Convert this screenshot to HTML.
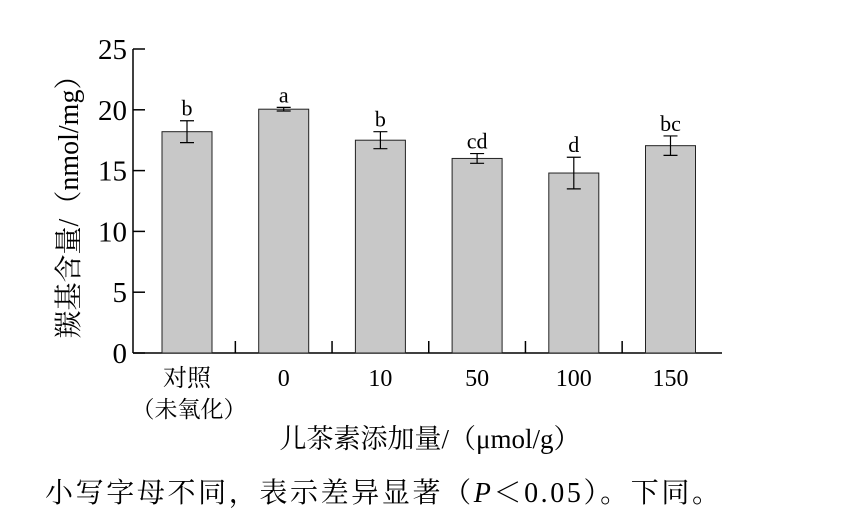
<!DOCTYPE html>
<html><head><meta charset="utf-8">
<style>
html,body{margin:0;padding:0;background:#fff;}
svg{display:block;font-family:"Liberation Serif","Noto Serif CJK SC",serif;}
</style></head>
<body>
<svg id="chart" width="844" height="529" viewBox="0 0 844 529"></svg>
<script>
const categories = ["对照", "0", "10", "50", "100", "150"];
const values = [18.2, 20.05, 17.5, 16.0, 14.8, 17.05];
const errors = [0.9, 0.15, 0.7, 0.4, 1.3, 0.8];
const letters = ["b", "a", "b", "cd", "d", "bc"];
const yTicks = [0, 5, 10, 15, 20, 25];

const NS = "http://www.w3.org/2000/svg";
const svg = document.getElementById("chart");
const X0 = 133, X1 = 722, Y0 = 353, YTOP = 49, YMAX = 25;
const step = 96.7, firstC = 187, barW = 50;
function y(v){ return Y0 - (v / YMAX) * (Y0 - YTOP); }
function xc(i){ return firstC + i * step; }
function mk(tag, attrs, text){
  const e = document.createElementNS(NS, tag);
  for (const k in attrs) e.setAttribute(k, attrs[k]);
  if (text !== undefined) e.textContent = text;
  svg.appendChild(e);
  return e;
}
let a = mk("line", {x1:X0, y1:YTOP, x2:X0, y2:Y0, stroke:"#000", "stroke-width":1.5});


a = mk("line", {x1:X0, y1:Y0, x2:X1, y2:Y0, stroke:"#000", "stroke-width":1.5});


yTicks.forEach(t => {
  const l = mk("line", {x1:X0, y1:y(t), x2:X0+12, y2:y(t), stroke:"#000", "stroke-width":1.5});
  
  
  const tx = mk("text", {x:X0-6, y:y(t)+10, "text-anchor":"end", "font-size":29}, String(t));
  
  
});
for (let i = 0; i < categories.length - 1; i++) {
  const xm = (xc(i) + xc(i+1)) / 2;
  const l = mk("line", {x1:xm, y1:Y0, x2:xm, y2:Y0-12, stroke:"#000", "stroke-width":1.5});
  
  
}
categories.forEach((c, i) => {
  const cx = xc(i);
  const r = mk("rect", {x:cx-barW/2, y:y(values[i]), width:barW, height:Y0-y(values[i]), fill:"#c8c8c8", stroke:"#222", "stroke-width":1});
  
  
  const hi = y(values[i] + errors[i]), lo = y(values[i] - errors[i]);
  const e = mk("path", {d:`M${cx},${hi}V${lo}M${cx-7},${hi}H${cx+7}M${cx-7},${lo}H${cx+7}`, stroke:"#000", "stroke-width":1.2, fill:"none"});
  
  
  const lt = mk("text", {x:cx, y:hi-5, "text-anchor":"middle", "font-size":22}, letters[i]);
  
  
  const xl = mk("text", {x:cx, y:386, "text-anchor":"middle", "font-size":24}, c);
  
  
});
let t = mk("text", {x:xc(0)+2, y:417, "text-anchor":"middle", "font-size":23}, "（未氧化）");


t = mk("text", {x:430, y:448, "text-anchor":"middle", "font-size":27}, "儿茶素添加量/（μmol/g）");


t = mk("text", {x:0, y:0, "text-anchor":"middle", "font-size":28, transform:"translate(78,200) rotate(-90)"}, "羰基含量/（nmol/mg）");


t = mk("text", {x:45, y:502, "font-size":28, textLength:675, lengthAdjust:"spacing"}, "小写字母不同，表示差异显著（");


const ts = document.createElementNS(NS, "tspan");
ts.setAttribute("font-style", "italic");
ts.textContent = "P";
t.appendChild(ts);
const ts2 = document.createElementNS(NS, "tspan");
ts2.textContent = "＜0.05）。下同。";
t.appendChild(ts2);
</script>
</body></html>
